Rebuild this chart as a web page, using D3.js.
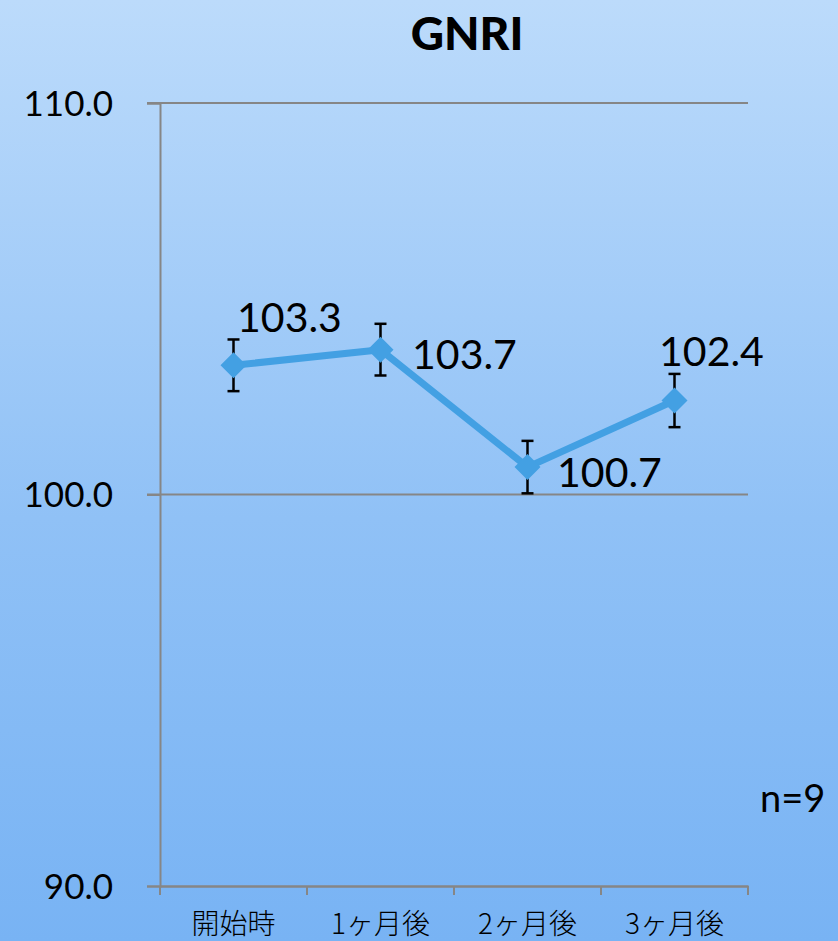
<!DOCTYPE html>
<html>
<head>
<meta charset="utf-8">
<script src="https://cdn.jsdelivr.net/npm/d3@7"></script>
<style>
  html, body { margin: 0; padding: 0; }
  svg { display: block; }
  text { font-family: "Lato", "Open Sans", "Noto Sans CJK JP", sans-serif; fill: #000; }
</style>
</head>
<body>
<svg id="chart" width="838" height="941"></svg>
<script>
// GNRI over time (mean ± SE), n=9
const categories = ["開始時", "1ヶ月後", "2ヶ月後", "3ヶ月後"];
const means = [103.3, 103.7, 100.7, 102.4];
const errors = [0.66, 0.66, 0.67, 0.68];
const yTicks = [90, 100, 110];
const title = "GNRI";
const note = "n=9";

const svg = d3.select("#chart");
const W = 838, H = 941;

// background gradient
const defs = svg.append("defs");
const grad = defs.append("linearGradient")
  .attr("id", "bg").attr("x1", 0).attr("y1", 0).attr("x2", 0).attr("y2", 1);
grad.append("stop").attr("offset", "0%").attr("stop-color", "#bcdbfb");
grad.append("stop").attr("offset", "55%").attr("stop-color", "#90c1f6");
grad.append("stop").attr("offset", "100%").attr("stop-color", "#78b3f4");
svg.append("rect").attr("width", W).attr("height", H).attr("fill", "url(#bg)");

const plot = { left: 160, right: 748, top: 103, bottom: 886 };

const x = d3.scaleBand().domain(categories).range([plot.left, plot.right]).padding(0);
const y = d3.scaleLinear().domain([90, 110]).range([plot.bottom, plot.top]);

// horizontal gridlines
svg.append("g").selectAll("line").data(yTicks.filter(t => t !== 90)).join("line")
  .attr("x1", plot.left - 13).attr("x2", plot.right)
  .attr("y1", d => y(d)).attr("y2", d => y(d))
  .attr("stroke", "#868686").attr("stroke-width", 2);

// y axis
const yAxis = svg.append("g").attr("transform", `translate(${plot.left},0)`)
  .call(d3.axisLeft(y).tickValues(yTicks).tickSize(13).tickFormat(d3.format(".1f")));
yAxis.select(".domain").attr("stroke", "#868686").attr("stroke-width", 2);
yAxis.selectAll(".tick line").attr("stroke", "#868686").attr("stroke-width", 2);
yAxis.selectAll(".tick text")
  .attr("x", -47).attr("dy", "0.35em")
  .style("font-size", "35px").style("font-family", "Lato, sans-serif").attr("fill", "#000");

// x axis
const xAxis = svg.append("g").attr("transform", `translate(0,${plot.bottom})`)
  .call(d3.axisBottom(x).tickSize(0).tickFormat(""));
xAxis.select(".domain").attr("stroke", "#868686").attr("stroke-width", 2.5);
xAxis.selectAll(".tick").remove();
const boundaries = categories.map(c => x(c)).concat([plot.right]);
svg.append("g").selectAll("line").data(boundaries).join("line")
  .attr("x1", d => d).attr("x2", d => d)
  .attr("y1", plot.bottom).attr("y2", plot.bottom + 9)
  .attr("stroke", "#868686").attr("stroke-width", 2);
svg.append("g").selectAll("text").data(categories).join("text")
  .attr("x", d => x(d) + x.bandwidth() / 2)
  .attr("y", plot.bottom + 48)
  .attr("text-anchor", "middle")
  .style("font-size", "28px")
  .style("font-family", "'Noto Sans CJK JP', sans-serif")
  .style("font-weight", 300)
  .text(d => d);

const cx = d => x(d) + x.bandwidth() / 2;
const pts = categories.map((c, i) => ({ c, v: means[i], e: errors[i] }));

// error bars
const eb = svg.append("g").attr("stroke", "#000").attr("stroke-width", 2.5);
pts.forEach(p => {
  eb.append("line").attr("x1", cx(p.c)).attr("x2", cx(p.c))
    .attr("y1", y(p.v + p.e)).attr("y2", y(p.v - p.e));
  [p.v + p.e, p.v - p.e].forEach(v => {
    eb.append("line").attr("x1", cx(p.c) - 6).attr("x2", cx(p.c) + 6)
      .attr("y1", y(v)).attr("y2", y(v));
  });
});

// line
const lineColor = "#43a0e3";
svg.append("path").datum(pts)
  .attr("d", d3.line().x(d => cx(d.c)).y(d => y(d.v)))
  .attr("fill", "none").attr("stroke", lineColor).attr("stroke-width", 7)
  .attr("stroke-linejoin", "round");

// diamond markers
svg.append("g").selectAll("path").data(pts).join("path")
  .attr("transform", d => `translate(${cx(d.c)},${y(d.v)})`)
  .attr("d", "M0,-13L13,0L0,13L-13,0Z")
  .attr("fill", lineColor);

// value labels
const labelOffsets = [
  { dx: 56, dy: -33 },
  { dx: 84, dy: 19 },
  { dx: 82, dy: 20 },
  { dx: 37, dy: -35 }
];
svg.append("g").selectAll("text").data(pts).join("text")
  .attr("x", (d, i) => cx(d.c) + labelOffsets[i].dx)
  .attr("y", (d, i) => y(d.v) + labelOffsets[i].dy)
  .attr("text-anchor", "middle")
  .style("font-size", "41px")
  .text(d => d.v.toFixed(1));

// title
svg.append("text").attr("x", 467).attr("y", 50).attr("text-anchor", "middle")
  .style("font-size", "46px").style("font-weight", 900).text(title);

// sample size note
svg.append("text").attr("x", 760).attr("y", 812)
  .style("font-size", "38px").text(note);
</script>
</body>
</html>
